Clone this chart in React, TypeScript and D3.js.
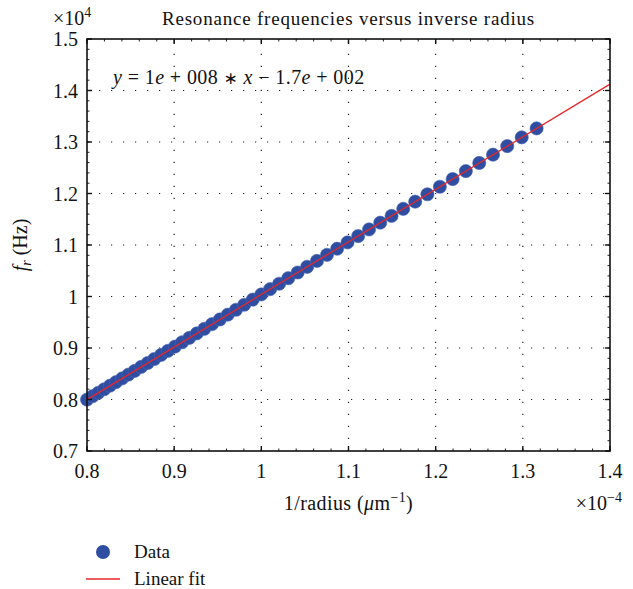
import React from "react";
import * as d3 from "d3";

// 1/radius (×1e-4 µm^-1)
const invRadius = [
  0.8, 0.8065, 0.813, 0.8197, 0.8264, 0.8333, 0.8403, 0.8475, 0.8547, 0.8621,
  0.8696, 0.8772, 0.885, 0.8929, 0.9009, 0.9091, 0.9174, 0.9259, 0.9346, 0.9434,
  0.9524, 0.9615, 0.9709, 0.9804, 0.9901, 1.0, 1.0101, 1.0204, 1.0309, 1.0417,
  1.0526, 1.0638, 1.0753, 1.087, 1.0989, 1.1111, 1.1236, 1.1364, 1.1494, 1.1628,
  1.1765, 1.1905, 1.2048, 1.2195, 1.2346, 1.25, 1.2658, 1.2821, 1.2987, 1.3158,
];
// resonance frequency (×1e4 Hz)
const freq = [
  0.7998, 0.8064, 0.8131, 0.8199, 0.8268, 0.8338, 0.8409, 0.8483, 0.8556, 0.8632,
  0.8709, 0.8786, 0.8866, 0.8946, 0.9028, 0.9112, 0.9197, 0.9283, 0.9372, 0.9462,
  0.9554, 0.9647, 0.9743, 0.984, 0.9939, 1.004, 1.0143, 1.0248, 1.0355, 1.0466,
  1.0577, 1.0691, 1.0809, 1.0928, 1.105, 1.1174, 1.1302, 1.1433, 1.1565, 1.1702,
  1.1842, 1.1985, 1.2131, 1.2281, 1.2435, 1.2593, 1.2754, 1.292, 1.309, 1.3264,
];
const fitX = [0.8, 1.4];
const fitY = [0.7998, 1.4124];
const xTicks = [0.8, 0.9, 1.0, 1.1, 1.2, 1.3, 1.4];
const yTicks = [0.7, 0.8, 0.9, 1.0, 1.1, 1.2, 1.3, 1.4, 1.5];
const xTickLabels = ["0.8", "0.9", "1", "1.1", "1.2", "1.3", "1.4"];
const yTickLabels = ["0.7", "0.8", "0.9", "1", "1.1", "1.2", "1.3", "1.4", "1.5"];

const W = 633;
const H = 589;
const L = 87, R = 610, T = 39, B = 451;
const FONT = "'Liberation Serif', 'Times New Roman', serif";
const BLUE = "#2f4ea2";
const RED = "#e8262a";

export default function App() {
  const x = d3.scaleLinear().domain([0.8, 1.4]).range([L, R]);
  const y = d3.scaleLinear().domain([0.7, 1.5]).range([B, T]);
  const xMinor = d3.range(0.8, 1.4001, 0.02);
  const yMinor = d3.range(0.7, 1.5001, 0.02);
  const line = d3.line<number>().x((d, i) => x(fitX[i])).y((d, i) => y(fitY[i]));
  const dash = "1.2 10.8";
  return (
    <svg width={W} height={H} style={{ position: "absolute", left: 0, top: 0, background: "#fff" }} fontFamily={FONT}>
      <rect x={0} y={0} width={W} height={H} fill="#fff" />
      {/* grid */}
      {xTicks.slice(1, -1).map((t) => (
        <line key={"gx" + t} x1={x(t)} x2={x(t)} y1={B} y2={T} stroke="#222" strokeWidth={1.2} strokeDasharray={dash} />
      ))}
      {yTicks.slice(1, -1).map((t) => (
        <line key={"gy" + t} x1={L} x2={R} y1={y(t)} y2={y(t)} stroke="#222" strokeWidth={1.2} strokeDasharray={dash} />
      ))}
      {/* data */}
      {invRadius.map((v, i) => (
        <circle key={"p" + i} cx={x(v)} cy={y(freq[i])} r={6.6} fill={BLUE} stroke="#4a66b3" strokeWidth={0.6} />
      ))}
      <path d={line(fitX) || ""} stroke={RED} strokeWidth={1.3} fill="none" />
      {/* minor ticks */}
      {xMinor.map((t, i) => (
        <g key={"mx" + i} stroke="#222" strokeWidth={1}>
          <line x1={x(t)} x2={x(t)} y1={B} y2={B - 2.5} />
          <line x1={x(t)} x2={x(t)} y1={T} y2={T + 2.5} />
        </g>
      ))}
      {yMinor.map((t, i) => (
        <g key={"my" + i} stroke="#222" strokeWidth={1}>
          <line x1={L} x2={L + 2.5} y1={y(t)} y2={y(t)} />
          <line x1={R} x2={R - 2.5} y1={y(t)} y2={y(t)} />
        </g>
      ))}
      {/* major ticks */}
      {xTicks.map((t) => (
        <g key={"tx" + t} stroke="#111" strokeWidth={1.4}>
          <line x1={x(t)} x2={x(t)} y1={B} y2={B - 5} />
          <line x1={x(t)} x2={x(t)} y1={T} y2={T + 5} />
        </g>
      ))}
      {yTicks.map((t) => (
        <g key={"ty" + t} stroke="#111" strokeWidth={1.4}>
          <line x1={L} x2={L + 5} y1={y(t)} y2={y(t)} />
          <line x1={R} x2={R - 5} y1={y(t)} y2={y(t)} />
        </g>
      ))}
      <rect x={L} y={T} width={R - L} height={B - T} fill="none" stroke="#111" strokeWidth={1.6} />
      {/* tick labels */}
      {xTicks.map((t, i) => (
        <text key={"lx" + t} x={x(t)} y={478} textAnchor="middle" fontSize={20} fill="#111">{xTickLabels[i]}</text>
      ))}
      {yTicks.map((t, i) => (
        <text key={"ly" + t} x={78} y={y(t) + 7} textAnchor="end" fontSize={20} fill="#111">{yTickLabels[i]}</text>
      ))}
      {/* exponents */}
      <text x={53} y={25} fontSize={20} fill="#111">
        ×10<tspan fontSize={14} dy={-8}>4</tspan>
      </text>
      <text x={622} y={510} fontSize={20} fill="#111" textAnchor="end">
        ×10<tspan fontSize={14} dy={-8}>−4</tspan>
      </text>
      {/* title */}
      <text x={(L + R) / 2} y={25} textAnchor="middle" fontSize={19} letterSpacing={0.8} fill="#111">
        Resonance frequencies versus inverse radius
      </text>
      {/* axis labels */}
      <text x={(L + R) / 2} y={510} textAnchor="middle" fontSize={20} letterSpacing={0.4} fill="#111">
        1/radius (<tspan fontStyle="italic">μ</tspan>m<tspan fontSize={14} dy={-8}>−1</tspan><tspan dy={8}>)</tspan>
      </text>
      <text transform={`translate(27,${(T + B) / 2}) rotate(-90)`} textAnchor="middle" fontSize={20} fill="#111">
        <tspan fontStyle="italic">f</tspan><tspan fontStyle="italic" fontSize={14} dy={4}>r</tspan><tspan dy={-4}> (Hz)</tspan>
      </text>
      {/* equation */}
      <text x={113} y={84} fontSize={20} letterSpacing={0.4} fill="#111">
        <tspan fontStyle="italic">y</tspan> = 1<tspan fontStyle="italic">e</tspan> + 008 <tspan fontFamily="'DejaVu Sans', sans-serif" fontSize={17}>∗</tspan> <tspan fontStyle="italic">x</tspan> − 1.7<tspan fontStyle="italic">e</tspan> + 002
      </text>
      {/* legend */}
      <circle cx={103} cy={552} r={7} fill={BLUE} />
      <text x={134} y={558} fontSize={19} fill="#111">Data</text>
      <line x1={86} x2={120} y1={579} y2={579} stroke={RED} strokeWidth={1.3} />
      <text x={134} y={585} fontSize={19} fill="#111">Linear fit</text>
    </svg>
  );
}
